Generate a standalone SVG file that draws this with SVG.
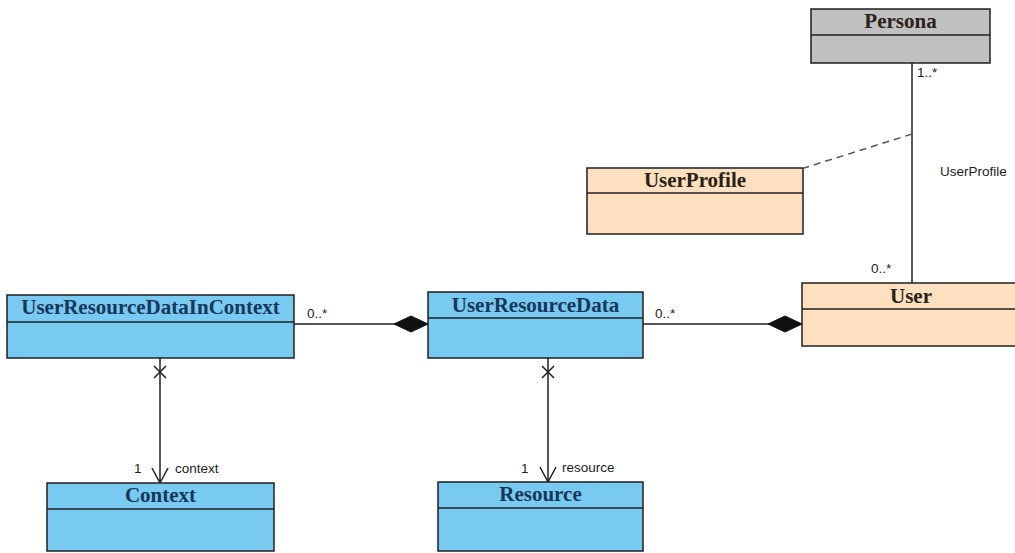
<svg xmlns="http://www.w3.org/2000/svg" width="1015" height="553" viewBox="0 0 1015 553">
  <style>
    .box { stroke: #1f1f1f; stroke-width: 1.5; }
    .blue { fill: #78caf1; }
    .peach { fill: #fde0c0; }
    .grey { fill: #c0c0c0; }
    .div { stroke: #1f1f1f; stroke-width: 1.5; fill: none; }
    .name { font-family: "Liberation Serif", "Times New Roman", serif; font-weight: bold; font-size: 21px; text-anchor: middle; }
    .nb { fill: #17375a; }
    .nd { fill: #2a2118; }
    .lbl { font-family: "Liberation Sans", Arial, sans-serif; font-size: 13.5px; fill: #222; }
    .edge { stroke: #1f1f1f; stroke-width: 1.5; fill: none; }
    .dash { stroke: #555; stroke-width: 1.5; fill: none; stroke-dasharray: 7 5; }
  </style>
  <defs>
    <marker id="diamond" markerWidth="36" markerHeight="18" refX="35" refY="9" orient="auto" markerUnits="userSpaceOnUse">
      <path d="M1,9 L18,1 L35,9 L18,17 Z" fill="#111" stroke="#111"/>
    </marker>
    <marker id="openArrow" markerWidth="18" markerHeight="20" refX="16" refY="9" orient="auto" markerUnits="userSpaceOnUse">
      <path d="M1,1 L16,9 L1,17" fill="none" stroke="#1f1f1f" stroke-width="1.5"/>
    </marker>
  </defs>

  <rect width="1015" height="553" fill="#ffffff"/>

  <!-- connectors -->
  <g id="connectors">
    <!-- Persona – User association -->
    <line class="edge" x1="912" y1="63" x2="912" y2="283"/>
    <!-- association class link to UserProfile -->
    <line class="dash" x1="912" y1="134" x2="804" y2="168"/>
    <!-- composition: UserResourceData owns UserResourceDataInContext -->
    <line class="edge" x1="294" y1="324" x2="428" y2="324" marker-end="url(#diamond)"/>
    <!-- composition: User owns UserResourceData -->
    <line class="edge" x1="643" y1="324" x2="802" y2="324" marker-end="url(#diamond)"/>
    <!-- navigable association to Context -->
    <line class="edge" x1="160" y1="358" x2="160" y2="483" marker-end="url(#openArrow)"/>
    <path class="edge" d="M154,366 L166,378 M166,366 L154,378"/>
    <!-- navigable association to Resource -->
    <line class="edge" x1="548" y1="358" x2="548" y2="482" marker-end="url(#openArrow)"/>
    <path class="edge" d="M542,366 L554,378 M554,366 L542,378"/>

    <text class="lbl" x="917" y="77">1..*</text>
    <text class="lbl" x="940" y="176">UserProfile</text>
    <text class="lbl" x="871" y="273">0..*</text>
    <text class="lbl" x="307" y="318">0..*</text>
    <text class="lbl" x="655" y="318">0..*</text>
    <text class="lbl" x="134" y="473">1</text>
    <text class="lbl" x="175" y="473">context</text>
    <text class="lbl" x="521" y="473">1</text>
    <text class="lbl" x="562" y="472">resource</text>
  </g>

  <g id="Persona">
    <rect class="box grey" x="811" y="9" width="179" height="54"/>
    <line class="div" x1="811" y1="35" x2="990" y2="35"/>
    <text class="name nd" x="900.5" y="28">Persona</text>
  </g>

  <g id="UserProfile">
    <rect class="box peach" x="587" y="168" width="216" height="66"/>
    <line class="div" x1="587" y1="193" x2="803" y2="193"/>
    <text class="name nd" x="695" y="187">UserProfile</text>
  </g>

  <g id="User">
    <rect class="box peach" x="802" y="283" width="220" height="63"/>
    <line class="div" x1="802" y1="309" x2="1022" y2="309"/>
    <text class="name nd" x="911" y="303">User</text>
  </g>

  <g id="UserResourceDataInContext">
    <rect class="box blue" x="7" y="295" width="287" height="63"/>
    <line class="div" x1="7" y1="322" x2="294" y2="322"/>
    <text class="name nb" x="150.5" y="314">UserResourceDataInContext</text>
  </g>

  <g id="UserResourceData">
    <rect class="box blue" x="428" y="292" width="215" height="66"/>
    <line class="div" x1="428" y1="318" x2="643" y2="318"/>
    <text class="name nb" x="535.5" y="312">UserResourceData</text>
  </g>

  <g id="Context">
    <rect class="box blue" x="47" y="483" width="227" height="68"/>
    <line class="div" x1="47" y1="509" x2="274" y2="509"/>
    <text class="name nb" x="160.5" y="502">Context</text>
  </g>

  <g id="Resource">
    <rect class="box blue" x="438" y="482" width="205" height="69"/>
    <line class="div" x1="438" y1="508" x2="643" y2="508"/>
    <text class="name nb" x="540.5" y="501">Resource</text>
  </g>
</svg>
